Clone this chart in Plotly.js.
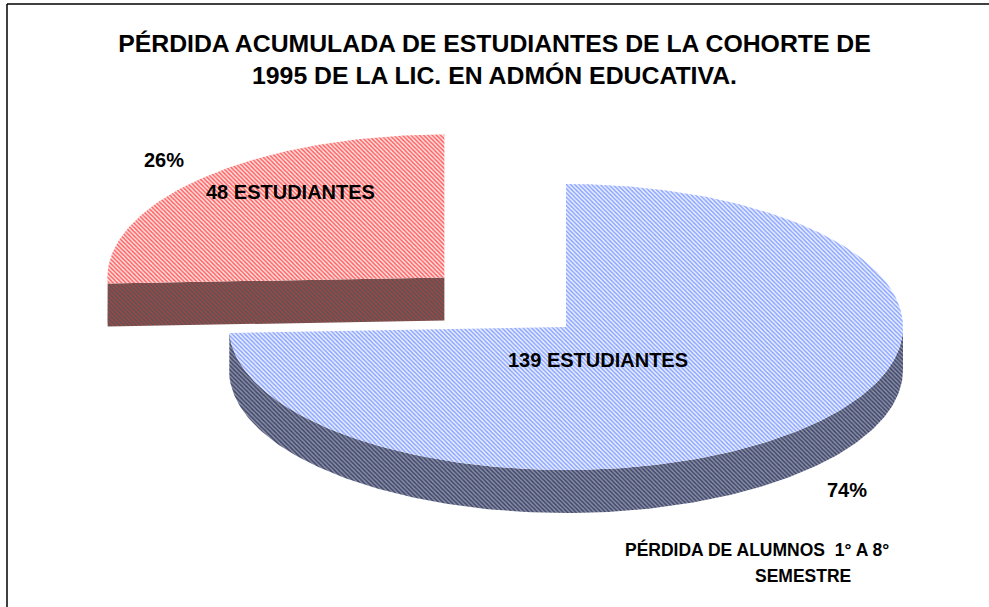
<!DOCTYPE html>
<html>
<head>
<meta charset="utf-8">
<script src="https://cdn.plot.ly/plotly-3.0.1.min.js"></script>
<style>html,body{margin:0;padding:0;background:#fff;}#chart{width:989px;height:607px;}</style>
</head>
<body>
<div id="chart"></div>
<script>
// ---- data ----
const categories = ['139 ESTUDIANTES', '48 ESTUDIANTES'];
const values = [139, 48];
const seriesNameLines = ['PÉRDIDA DE ALUMNOS  1° A 8°', 'SEMESTRE'];
const titleText = 'PÉRDIDA ACUMULADA DE ESTUDIANTES DE LA COHORTE DE<br>1995 DE LA LIC. EN ADMÓN EDUCATIVA.';
const explodeFrac = [0, 0.5];

// ---- geometry / style (pixel-like axis units) ----
const CX = 566, CY = 327, RX = 337, RY = 143, DEPTH = 43;
const topStyle = [
  {fg: '#8aa4ff', bg: '#eef2ff'},
  {fg: '#ff6060', bg: '#ffe6e6'}
];
const sideStyle = [
  {fg: '#3e466c', bg: '#8c90a4'},
  {fg: '#a04646', bg: '#585454'}
];

const total = values.reduce((a, b) => a + b, 0);
const rad = d => d * Math.PI / 180;

// slice angles: first slice starts at 12 o'clock, clockwise
let slices = [];
let cum = 0;
values.forEach((v, i) => {
  const sweep = v / total * 360;
  const e = 90 - cum;
  const s = e - sweep;
  const mid = (s + e) / 2;
  const ox = CX + explodeFrac[i] * RX * Math.cos(rad(mid));
  const oy = CY - explodeFrac[i] * RY * Math.sin(rad(mid));
  slices.push({i, s, e, mid, ox, oy});
  cum += sweep;
});

function pt(sl, a, dz) {
  return [sl.ox + RX * Math.cos(rad(a)), sl.oy - RY * Math.sin(rad(a)) + (dz || 0)];
}
function arcPts(sl, a0, a1, dz) {
  const n = Math.max(2, Math.ceil(Math.abs(a1 - a0)));
  const out = [];
  for (let k = 0; k <= n; k++) out.push(pt(sl, a0 + (a1 - a0) * k / n, dz));
  return out;
}
function polyTrace(points, st, name) {
  return {
    type: 'scatter', mode: 'lines', x: points.map(p => p[0]), y: points.map(p => p[1]),
    fill: 'toself', fillcolor: st.bg,
    fillpattern: {shape: '\\', fgcolor: st.fg, bgcolor: st.bg, size: 3, solidity: 0.5},
    line: {width: 0, color: st.fg}, hoverinfo: 'skip', showlegend: false, name: name
  };
}

const traces = [];
const order = slices.slice().sort((a, b) => a.oy - b.oy);
order.forEach(sl => {
  const st = sideStyle[sl.i];
  [[sl.s, sl.s - 90], [sl.e, sl.e + 90]].forEach(([a, nrm]) => {
    if (Math.sin(rad(nrm)) < -1e-6) {
      const c = [sl.ox, sl.oy], r = pt(sl, a, 0);
      traces.push(polyTrace([c, r, [r[0], r[1] + DEPTH], [c[0], c[1] + DEPTH], c], st, categories[sl.i]));
    }
  });
  for (let shift = -720; shift <= 720; shift += 360) {
    const a0 = Math.max(sl.s, 180 + shift), a1 = Math.min(sl.e, 360 + shift);
    if (a1 - a0 > 0.01) {
      const topArc = arcPts(sl, a0, a1, 0);
      const botArc = arcPts(sl, a1, a0, DEPTH);
      const p = topArc.concat(botArc);
      p.push(topArc[0]);
      traces.push(polyTrace(p, st, categories[sl.i]));
    }
  }
  const tp = [[sl.ox, sl.oy]].concat(arcPts(sl, sl.s, sl.e, 0));
  tp.push([sl.ox, sl.oy]);
  traces.push(polyTrace(tp, topStyle[sl.i], categories[sl.i]));
});

const FAM = 'Liberation Sans, Arial, sans-serif';
const lblFont = {family: FAM, size: 20, color: '#000', weight: 'bold'};
const legFont = {family: FAM, size: 17.5, color: '#000', weight: 'bold'};
const pct = values.map(v => Math.round(v / total * 100) + '%');
const annotations = [
  {x: 598, y: 360, text: categories[0], showarrow: false, font: lblFont, xref: 'x', yref: 'y'},
  {x: 290, y: 192, text: categories[1], showarrow: false, font: lblFont, xref: 'x', yref: 'y'},
  {x: 847, y: 490, text: pct[0], showarrow: false, font: lblFont, xref: 'x', yref: 'y'},
  {x: 164, y: 160, text: pct[1], showarrow: false, font: lblFont, xref: 'x', yref: 'y'},
  {x: 757, y: 549, text: seriesNameLines[0], showarrow: false, font: legFont, xref: 'x', yref: 'y'},
  {x: 803, y: 576, text: seriesNameLines[1], showarrow: false, font: legFont, xref: 'x', yref: 'y'}
];

const layout = {
  width: 989, height: 607,
  margin: {l: 0, r: 0, t: 0, b: 0},
  paper_bgcolor: '#ffffff', plot_bgcolor: '#ffffff',
  title: {text: titleText, x: 0.5, xanchor: 'center', y: 1 - 52 / 607, yanchor: 'middle',
          font: {family: FAM, size: 24.8, color: '#000', weight: 'bold'}},
  xaxis: {range: [0, 989], visible: false, fixedrange: true},
  yaxis: {range: [607, 0], visible: false, fixedrange: true},
  showlegend: false,
  annotations: annotations,
  shapes: [
    {type: 'line', xref: 'paper', yref: 'paper', x0: 7 / 989, x1: 7 / 989, y0: 0, y1: 1 - 4 / 607, line: {color: '#000', width: 1.5}},
    {type: 'line', xref: 'paper', yref: 'paper', x0: 7 / 989, x1: 1, y0: 1 - 4 / 607, y1: 1 - 4 / 607, line: {color: '#000', width: 1.5}}
  ]
};

Plotly.newPlot('chart', traces, layout, {displayModeBar: false, staticPlot: true});
</script>
</body>
</html>
